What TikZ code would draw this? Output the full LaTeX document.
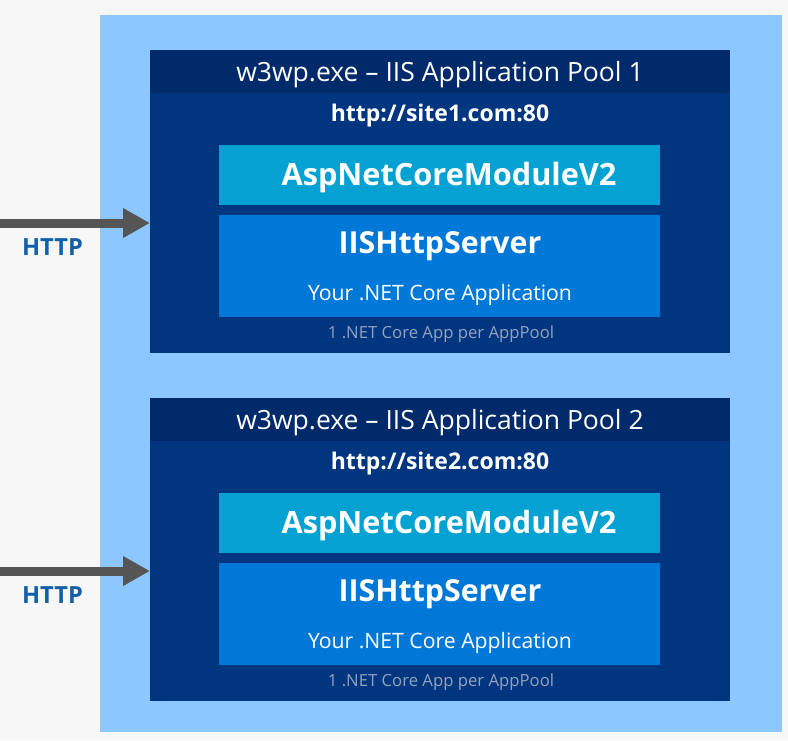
\documentclass[tikz,border=0pt]{standalone}
\usepackage{fontspec}
\setmainfont{Open Sans}
\definecolor{pagebg}{RGB}{247,247,247}
\definecolor{hostblue}{RGB}{140,200,255}
\definecolor{pooldark}{RGB}{1,42,106}
\definecolor{poolblue}{RGB}{0,53,128}
\definecolor{modcyan}{RGB}{3,162,210}
\definecolor{srvblue}{RGB}{0,120,215}
\definecolor{arrowgray}{RGB}{85,85,85}
\definecolor{httpblue}{RGB}{18,96,168}
\definecolor{notegray}{RGB}{150,162,190}
\usetikzlibrary{arrows.meta,positioning}
\tikzset{
  hostbox/.style={fill=hostblue, inner sep=0pt, anchor=north west, minimum width=682pt, minimum height=717pt},
  poolbox/.style={fill=poolblue, inner sep=0pt, anchor=north west, minimum width=580pt, minimum height=303pt},
  poolband/.style={fill=pooldark, inner sep=0pt, anchor=north west, minimum width=580pt, minimum height=43pt},
  bandtext/.style={anchor=base, inner sep=0pt, text=white, font=\fontsize{26.5}{31}\selectfont},
  urltext/.style={anchor=base, inner sep=0pt, text=white, font=\bfseries\fontsize{23}{27}\selectfont},
  modbox/.style={fill=modcyan, inner sep=0pt, anchor=north west, minimum width=441pt, minimum height=60pt},
  modtext/.style={anchor=base, inner sep=0pt, text=white, font=\bfseries\fontsize{30.7}{35}\selectfont},
  srvbox/.style={fill=srvblue, inner sep=0pt, anchor=north west, minimum width=441pt, minimum height=102pt},
  srvname/.style={anchor=base, inner sep=0pt, text=white, font=\bfseries\fontsize{30.3}{35}\selectfont},
  srvsub/.style={anchor=base, inner sep=0pt, text=white, font=\fontsize{21.2}{25}\selectfont},
  poolnote/.style={anchor=base, inner sep=0pt, text=notegray, font=\fontsize{16.7}{20}\selectfont},
  httplabel/.style={anchor=base, inner sep=0pt, text=httpblue, font=\bfseries\fontsize{23.6}{28}\selectfont},
  httparrow/.style={draw=arrowgray, line width=9pt, -{Triangle[length=27pt, width=28pt]}}
}
\begin{document}
\begin{tikzpicture}[x=1pt, y=-1pt]
  \fill[pagebg] (0,0) rectangle (788,740);
  \useasboundingbox (0,0) rectangle (788,740);
  \node[hostbox] (host) at (100,15) {};

  % application pool 1
  \node[poolbox] (pool1) at (150,50) {};
  \node[poolband] (band1) at (150,50) {};
  \node[bandtext] (title1) at (440,81.5) {w3wp.exe -- IIS Application Pool 1};
  \node[urltext] (url1) at (440,121) {http://site1.com:80};
  \node[modbox] (mod1) at (219,145) {};
  \node[modtext] (modname1) at (449,185) {AspNetCoreModuleV2};
  \node[srvbox] (srv1) at (219,215) {};
  \node[srvname] (name1) at (440,253) {IISHttpServer};
  \node[srvsub] (app1) at (440,300) {Your .NET Core Application};
  \node[poolnote] (note1) at (441,338) {1 .NET Core App per AppPool};

  % application pool 2
  \node[poolbox] (pool2) at (150,398) {};
  \node[poolband] (band2) at (150,398) {};
  \node[bandtext] (title2) at (440,429.5) {w3wp.exe -- IIS Application Pool 2};
  \node[urltext] (url2) at (440,469) {http://site2.com:80};
  \node[modbox] (mod2) at (219,493) {};
  \node[modtext] (modname2) at (449,533) {AspNetCoreModuleV2};
  \node[srvbox] (srv2) at (219,563) {};
  \node[srvname] (name2) at (440,601) {IISHttpServer};
  \node[srvsub] (app2) at (440,648) {Your .NET Core Application};
  \node[poolnote] (note2) at (441,686) {1 .NET Core App per AppPool};

  % incoming requests
  \coordinate (src1) at (0,223);
  \coordinate (src2) at (0,571);
  \draw[httparrow] (src1) -- (src1 -| pool1.west);
  \draw[httparrow] (src2) -- (src2 -| pool2.west);
  \node[httplabel] (http1) at (52.5,255) {HTTP};
  \node[httplabel] (http2) at (52.5,603) {HTTP};
\end{tikzpicture}
\end{document}
